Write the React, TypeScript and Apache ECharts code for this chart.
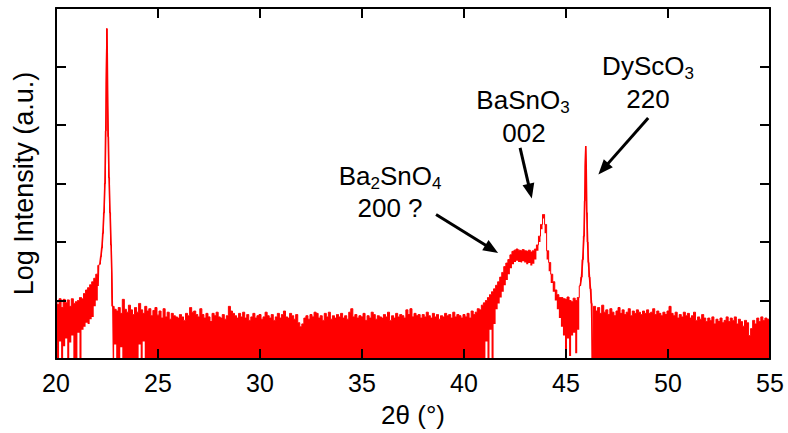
import React, { useEffect, useRef } from "react";
import * as echarts from "echarts";

// 2θ grid of the background scan: 20.0 → 55.0 in 0.1° steps
const START_ANGLE = 20;
const ANGLE_STEP = 0.1;

// upper envelope of the noisy log-intensity trace (one row = 1°)
const upperEnvelope = [
  1.00, 0.93, 1.03, 0.88, 1.02, 0.96, 1.01, 0.90, 1.03, 0.95,
  0.98, 1.00, 1.05, 1.03, 1.12, 1.18, 1.22, 1.27, 1.32, 1.38,
  1.45, 1.60, 1.75, 2.10, 3.00, 5.65, 3.10, 2.00, 0.90, 0.85,
  0.82, 0.88, 0.78, 1.02, 0.85, 0.80, 0.92, 0.84, 0.76, 0.88,
  0.80, 0.95, 0.84, 0.78, 0.90, 0.82, 0.86, 0.74, 0.83, 0.88,
  0.75, 0.82, 0.70, 0.86, 0.72, 0.80, 0.68, 0.78, 0.74, 0.72,
  0.70, 0.76, 0.72, 0.66, 0.78, 0.74, 0.88, 0.80, 0.82, 0.76,
  0.72, 0.86, 0.76, 0.70, 0.78, 0.72, 0.64, 0.78, 0.74, 0.80,
  0.72, 0.70, 0.76, 0.68, 0.74, 0.90, 0.82, 0.78, 0.74, 0.70,
  0.78, 0.72, 0.80, 0.70, 0.76, 0.66, 0.72, 0.78, 0.70, 0.74,
  0.76, 0.68, 0.72, 0.80, 0.74, 0.70, 0.76, 0.66, 0.72, 0.78,
  0.70, 0.76, 0.82, 0.72, 0.70, 0.78, 0.74, 0.68, 0.76, 0.62,
  0.55, 0.60, 0.70, 0.74, 0.68, 0.76, 0.72, 0.80, 0.78, 0.70,
  0.74, 0.66, 0.78, 0.72, 0.80, 0.68, 0.74, 0.70, 0.76, 0.72,
  0.78, 0.70, 0.74, 0.68, 0.80, 0.86, 0.72, 0.76, 0.70, 0.74,
  0.72, 0.78, 0.66, 0.74, 0.70, 0.80, 0.76, 0.68, 0.74, 0.72,
  0.70, 0.76, 0.72, 0.80, 0.66, 0.74, 0.70, 0.78, 0.72, 0.76,
  0.74, 0.70, 0.84, 0.76, 0.86, 0.72, 0.78, 0.74, 0.76, 0.70,
  0.76, 0.72, 0.80, 0.74, 0.70, 0.78, 0.72, 0.76, 0.68, 0.74,
  0.72, 0.78, 0.74, 0.76, 0.70, 0.80, 0.72, 0.76, 0.74, 0.70,
  0.76, 0.72, 0.78, 0.70, 0.82, 0.76, 0.80, 0.86, 0.84, 0.92,
  0.96, 1.00, 1.05, 1.10, 1.15, 1.20, 1.26, 1.32, 1.40, 1.48,
  1.58, 1.64, 1.70, 1.78, 1.84, 1.86, 1.88, 1.86, 1.85, 1.87,
  1.85, 1.84, 1.86, 1.83, 1.85, 1.88, 1.95, 2.10, 2.30, 2.47,
  2.30, 1.85, 1.65, 1.45, 1.32, 1.18, 1.10, 1.05, 1.05, 1.03,
  1.02, 1.06, 1.00, 0.98, 1.04, 1.00, 1.05, 1.30, 2.00, 3.60,
  2.40, 1.60, 1.20, 0.50, 0.90, 0.82, 0.88, 0.78, 0.92, 0.80,
  0.84, 0.76, 0.86, 0.80, 0.74, 0.82, 0.88, 0.78, 0.84, 0.76,
  0.80, 0.86, 0.74, 0.82, 0.78, 0.84, 0.80, 0.76, 0.82, 0.78,
  0.84, 0.78, 0.80, 0.86, 0.76, 0.82, 0.78, 0.74, 0.80, 0.76,
  0.82, 0.90, 0.78, 0.74, 0.80, 0.70, 0.76, 0.72, 0.80, 0.74,
  0.78, 0.70, 0.74, 0.80, 0.66, 0.72, 0.68, 0.76, 0.70, 0.64,
  0.70, 0.66, 0.72, 0.60, 0.68, 0.64, 0.70, 0.62, 0.66, 0.72,
  0.64, 0.70, 0.66, 0.72, 0.60, 0.68, 0.64, 0.56, 0.66, 0.62,
  0.40, 0.52, 0.66, 0.60, 0.70, 0.64, 0.72, 0.66, 0.70, 0.68,
  0.66,
];

// lower envelope of the same trace (0 = zero-count points at the floor)
const lowerEnvelope = [
  0.25, 0, 0.30, 0, 0.22, 0.35, 0, 0.28, 0.40, 0,
  0, 0.45, 0, 0.50, 0.55, 0.62, 0.60, 0.68, 0.72, 0.90,
  1.00, 1.25, 0, 0, 0, 0, 0, 0, 0, 0.25,
  0, 0, 0.20, 0, 0, 0, 0, 0, 0, 0,
  0, 0.25, 0, 0.30, 0, 0, 0, 0, 0, 0,
  0, 0, 0, 0, 0, 0, 0, 0, 0, 0,
  0, 0, 0, 0, 0, 0, 0, 0, 0, 0,
  0, 0, 0, 0, 0, 0, 0, 0, 0, 0,
  0, 0, 0, 0, 0, 0, 0, 0, 0, 0,
  0, 0, 0, 0, 0, 0, 0, 0, 0, 0,
  0, 0, 0, 0, 0, 0, 0, 0, 0, 0,
  0, 0, 0, 0, 0, 0, 0, 0, 0, 0,
  0, 0, 0, 0, 0, 0, 0, 0, 0, 0,
  0, 0, 0, 0, 0, 0, 0, 0, 0, 0,
  0, 0, 0, 0, 0, 0, 0, 0, 0, 0,
  0, 0, 0, 0, 0, 0, 0, 0, 0, 0,
  0, 0, 0, 0, 0, 0, 0, 0, 0, 0,
  0, 0, 0, 0, 0, 0, 0, 0, 0, 0,
  0, 0, 0, 0, 0, 0, 0, 0, 0, 0,
  0, 0, 0, 0, 0, 0, 0, 0, 0, 0,
  0, 0, 0, 0, 0, 0, 0, 0, 0, 0,
  0, 0.30, 0, 0.50, 0, 0.60, 0.85, 0.95, 1.05, 1.15,
  1.26, 1.35, 1.45, 1.55, 1.62, 1.66, 1.68, 1.66, 1.65, 1.67,
  1.65, 1.62, 1.64, 1.60, 1.63, 1.70, 1.85, 2.00, 2.22, 2.40,
  2.15, 1.70, 1.50, 1.30, 1.15, 1.00, 0.85, 0.70, 0.55, 0.40,
  0, 0.35, 0.05, 0.40, 0.45, 0.10, 0.50, 0, 0, 0,
  0, 0, 0, 0, 0, 0, 0, 0, 0, 0,
  0, 0, 0, 0, 0, 0, 0, 0, 0, 0,
  0, 0, 0, 0, 0, 0, 0, 0, 0, 0,
  0, 0, 0, 0, 0, 0, 0, 0, 0, 0,
  0, 0, 0, 0, 0, 0, 0, 0, 0, 0,
  0, 0, 0, 0, 0, 0, 0, 0, 0, 0,
  0, 0, 0, 0, 0, 0, 0, 0, 0, 0,
  0, 0, 0, 0, 0, 0, 0, 0, 0, 0,
  0, 0, 0, 0, 0, 0, 0, 0, 0, 0,
  0,
];

// finely sampled sharp substrate peaks
const peakAAngles = [22.15, 22.2, 22.25, 22.3, 22.35, 22.4, 22.44, 22.47, 22.5, 22.53, 22.56, 22.6, 22.65, 22.7, 22.74, 22.76];
const peakAValues = [1.62, 1.75, 1.9, 2.15, 2.5, 3.0, 3.9, 4.7, 5.65, 4.6, 3.8, 3.1, 2.5, 1.95, 1.45, 0.9];
const peakBAngles = [45.7, 45.76, 45.82, 45.88, 45.92, 45.95, 45.97, 45.99, 46.02, 46.06, 46.1, 46.15, 46.2, 46.25, 46.3];
const peakBValues = [1.25, 1.4, 1.7, 2.1, 2.7, 3.3, 3.64, 3.3, 2.5, 2.0, 1.65, 1.4, 1.2, 0.95, 0.0];

// x-axis ticks
const xTicks = [20, 25, 30, 35, 40, 45, 50, 55];

// annotation arrows (data coordinates)
const arrowStarts: [number, number][] = [[49.03, 4.12], [42.75, 3.61], [38.63, 2.47]];
const arrowEnds: [number, number][] = [[46.83, 3.25], [43.24, 2.87], [41.36, 1.88]];

const RED = "#ff0000";
const FONT = "'Liberation Sans', Arial, sans-serif";

function buildPoints() {
  const peaks = [
    { a: peakAAngles, v: peakAValues },
    { a: peakBAngles, v: peakBValues },
  ];
  const inPeak = (x: number) => peaks.some((p) => x >= p.a[0] - 1e-6 && x <= p.a[p.a.length - 1] + 1e-6);
  const up: [number, number][] = [];
  const lo: [number, number][] = [];
  upperEnvelope.forEach((u, i) => {
    const x = Math.round((START_ANGLE + i * ANGLE_STEP) * 100) / 100;
    if (inPeak(x)) return;
    up.push([x, u]);
    lo.push([x, lowerEnvelope[i]]);
  });
  peaks.forEach((p) =>
    p.a.forEach((x, j) => {
      up.push([x, p.v[j]]);
      lo.push([x, p.v[j]]);
    })
  );
  up.sort((a, b) => a[0] - b[0]);
  lo.sort((a, b) => a[0] - b[0]);
  const pa = peakAAngles.map((x, j) => [x, peakAValues[j]]);
  const pb = peakBAngles.map((x, j) => [x, peakBValues[j]]);
  return { up, lo, pa, pb };
}

export default function App() {
  const ref = useRef<HTMLDivElement>(null);
  useEffect(() => {
    if (!ref.current) return;
    const chart = echarts.init(ref.current, undefined, { renderer: "svg" });
    const { up, lo, pa, pb } = buildPoints();

    const frameAxisLine = { onZero: false, lineStyle: { color: "#000", width: 2 } };
    const tick = { inside: true, length: 10, lineStyle: { color: "#000", width: 2 } };

    const main = { fontSize: 26, lineHeight: 32, fontFamily: FONT, color: "#000" };
    const sub = { fontSize: 17, lineHeight: 15, verticalAlign: "bottom", fontFamily: FONT, color: "#000" };
    const richLine = (x: number, y: number, text: string) => ({
      type: "text",
      x,
      y,
      style: { text, align: "center", verticalAlign: "middle", rich: { m: main, s: sub }, fill: "#000" },
    });
    const plainLine = (x: number, y: number, text: string) => ({
      type: "text",
      x,
      y,
      style: { text, align: "center", verticalAlign: "middle", fontSize: 26, fontFamily: FONT, fill: "#000" },
    });

    chart.setOption({
      animation: false,
      backgroundColor: "#fff",
      grid: { left: 56, right: 18, top: 8, bottom: 68, containLabel: false },
      xAxis: [
        {
          type: "value",
          min: xTicks[0],
          max: xTicks[xTicks.length - 1],
          interval: 5,
          position: "bottom",
          z: 5,
          axisLine: frameAxisLine,
          axisTick: tick,
          splitLine: { show: false },
          axisLabel: { fontSize: 25, color: "#000", margin: 11, fontFamily: FONT },
          name: "2θ (°)",
          nameLocation: "middle",
          nameGap: 43,
          nameTextStyle: { fontSize: 26, color: "#000", fontFamily: FONT },
        },
        {
          type: "value",
          min: xTicks[0],
          max: xTicks[xTicks.length - 1],
          interval: 5,
          position: "top",
          z: 5,
          axisLine: frameAxisLine,
          axisTick: tick,
          splitLine: { show: false },
          axisLabel: { show: false },
        },
      ],
      yAxis: [
        {
          type: "value",
          min: 0,
          max: 6,
          interval: 1,
          position: "left",
          z: 5,
          axisLine: frameAxisLine,
          axisTick: tick,
          splitLine: { show: false },
          axisLabel: { show: false },
          name: "Log Intensity (a.u.)",
          nameLocation: "middle",
          nameGap: 19,
          nameTextStyle: { fontSize: 27, color: "#000", fontFamily: FONT },
        },
        {
          type: "value",
          min: 0,
          max: 6,
          interval: 1,
          position: "right",
          z: 5,
          axisLine: frameAxisLine,
          axisTick: tick,
          splitLine: { show: false },
          axisLabel: { show: false },
        },
      ],
      series: [
        {
          name: "upper",
          type: "line",
          data: up,
          step: "middle",
          showSymbol: false,
          symbol: "none",
          lineStyle: { color: RED, width: 1 },
          areaStyle: { color: RED, opacity: 1 },
          silent: true,
        },
        {
          name: "lower",
          type: "line",
          data: lo,
          step: "middle",
          showSymbol: false,
          symbol: "none",
          lineStyle: { width: 0, opacity: 0 },
          areaStyle: { color: "#ffffff", opacity: 1 },
          silent: true,
        },
        {
          name: "peakA",
          type: "line",
          data: pa,
          showSymbol: false,
          symbol: "none",
          lineStyle: { color: RED, width: 1.6 },
          silent: true,
        },
        {
          name: "peakB",
          type: "line",
          data: pb,
          showSymbol: false,
          symbol: "none",
          lineStyle: { color: RED, width: 1.6 },
          silent: true,
          markLine: {
            silent: true,
            symbol: ["none", "triangle"],
            symbolSize: [12, 15],
            label: { show: false },
            lineStyle: { color: "#000", width: 3, type: "solid" },
            data: arrowStarts.map((s, i) => [{ coord: s }, { coord: arrowEnds[i] }]),
          },
        },
      ],
      graphic: [
        richLine(648, 66, "{m|DyScO}{s|3}"),
        plainLine(648, 99, "220"),
        richLine(523, 100, "{m|BaSnO}{s|3}"),
        plainLine(524, 132.5, "002"),
        richLine(390, 176, "{m|Ba}{s|2}{m|SnO}{s|4}"),
        plainLine(390, 207.5, "200 ?"),
      ],
    });
    return () => chart.dispose();
  }, []);
  return <div ref={ref} style={{ position: "fixed", left: 0, top: 0, width: 788, height: 433 }} />;
}
